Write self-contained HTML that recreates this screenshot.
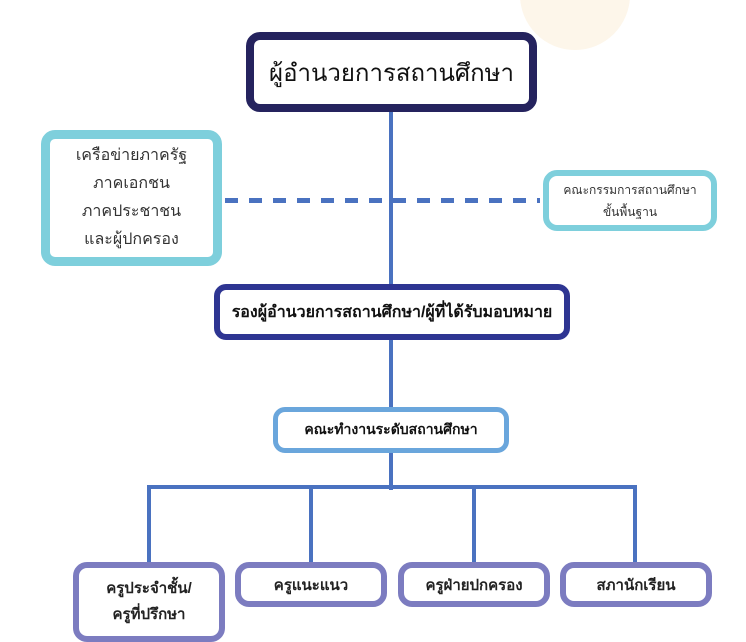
<!DOCTYPE html>
<html><head><meta charset="utf-8"><style>
body{margin:0;width:746px;height:630px;overflow:hidden;background:#fff;position:relative;font-family:"Liberation Sans","Noto Sans CJK SC",sans-serif;}
.b{position:absolute;box-sizing:border-box;background:#fff;display:flex;align-items:center;justify-content:center;text-align:center;color:#222;}
.l{position:absolute;background:#4a72c0;}
</style></head><body>
<div style="position:absolute;left:520px;top:-60px;width:110px;height:110px;border-radius:50%;background:#fdf6ea;"></div>
<div class="l" style="left:389px;top:110px;width:4px;height:380px"></div>
<div style="position:absolute;left:225px;top:198px;width:315px;height:5px;background:repeating-linear-gradient(90deg,#4a72c0 0 13px,transparent 13px 24px);"></div>
<div class="l" style="left:147px;top:485px;width:490px;height:4px"></div>
<div class="l" style="left:147px;top:485px;width:4px;height:80px"></div>
<div class="l" style="left:309px;top:485px;width:4px;height:80px"></div>
<div class="l" style="left:472px;top:485px;width:4px;height:80px"></div>
<div class="l" style="left:633px;top:485px;width:4px;height:80px"></div>

<div class="b" style="left:246px;top:32px;width:291px;height:80px;border:8px solid #25235e;border-radius:14px;font-size:24px;color:#111">ผู้อำนวยการสถานศึกษา</div>
<div class="b" style="left:41px;top:130px;width:181px;height:136px;border:9px solid #7ecfdc;border-radius:14px;font-size:16px;line-height:28px;color:#333">เครือข่ายภาครัฐ<br>ภาคเอกชน<br>ภาคประชาชน<br>และผู้ปกครอง</div>
<div class="b" style="left:543px;top:170px;width:174px;height:61px;border:6px solid #7ecfdc;border-radius:14px;font-size:12px;line-height:22px;color:#333">คณะกรรมการสถานศึกษา<br>ขั้นพื้นฐาน</div>
<div class="b" style="left:214px;top:284px;width:356px;height:56px;border:6px solid #2e3592;border-radius:12px;font-size:16px;font-weight:bold;color:#111">รองผู้อำนวยการสถานศึกษา/ผู้ที่ได้รับมอบหมาย</div>
<div class="b" style="left:273px;top:407px;width:236px;height:46px;border:5px solid #6aa6dc;border-radius:12px;font-size:14px;font-weight:bold;color:#111">คณะทำงานระดับสถานศึกษา</div>
<div class="b" style="left:73px;top:562px;width:152px;height:80px;border:6px solid #7c7cc0;border-radius:14px;font-size:15px;font-weight:bold;line-height:26px;align-items:flex-start;padding-top:8px">ครูประจำชั้น/<br>ครูที่ปรึกษา</div>
<div class="b" style="left:235px;top:562px;width:152px;height:45px;border:6px solid #7c7cc0;border-radius:14px;font-size:15px;font-weight:bold">ครูแนะแนว</div>
<div class="b" style="left:398px;top:562px;width:152px;height:45px;border:6px solid #7c7cc0;border-radius:14px;font-size:15px;font-weight:bold">ครูฝ่ายปกครอง</div>
<div class="b" style="left:560px;top:562px;width:152px;height:45px;border:6px solid #7c7cc0;border-radius:14px;font-size:15px;font-weight:bold">สภานักเรียน</div>
</body></html>
